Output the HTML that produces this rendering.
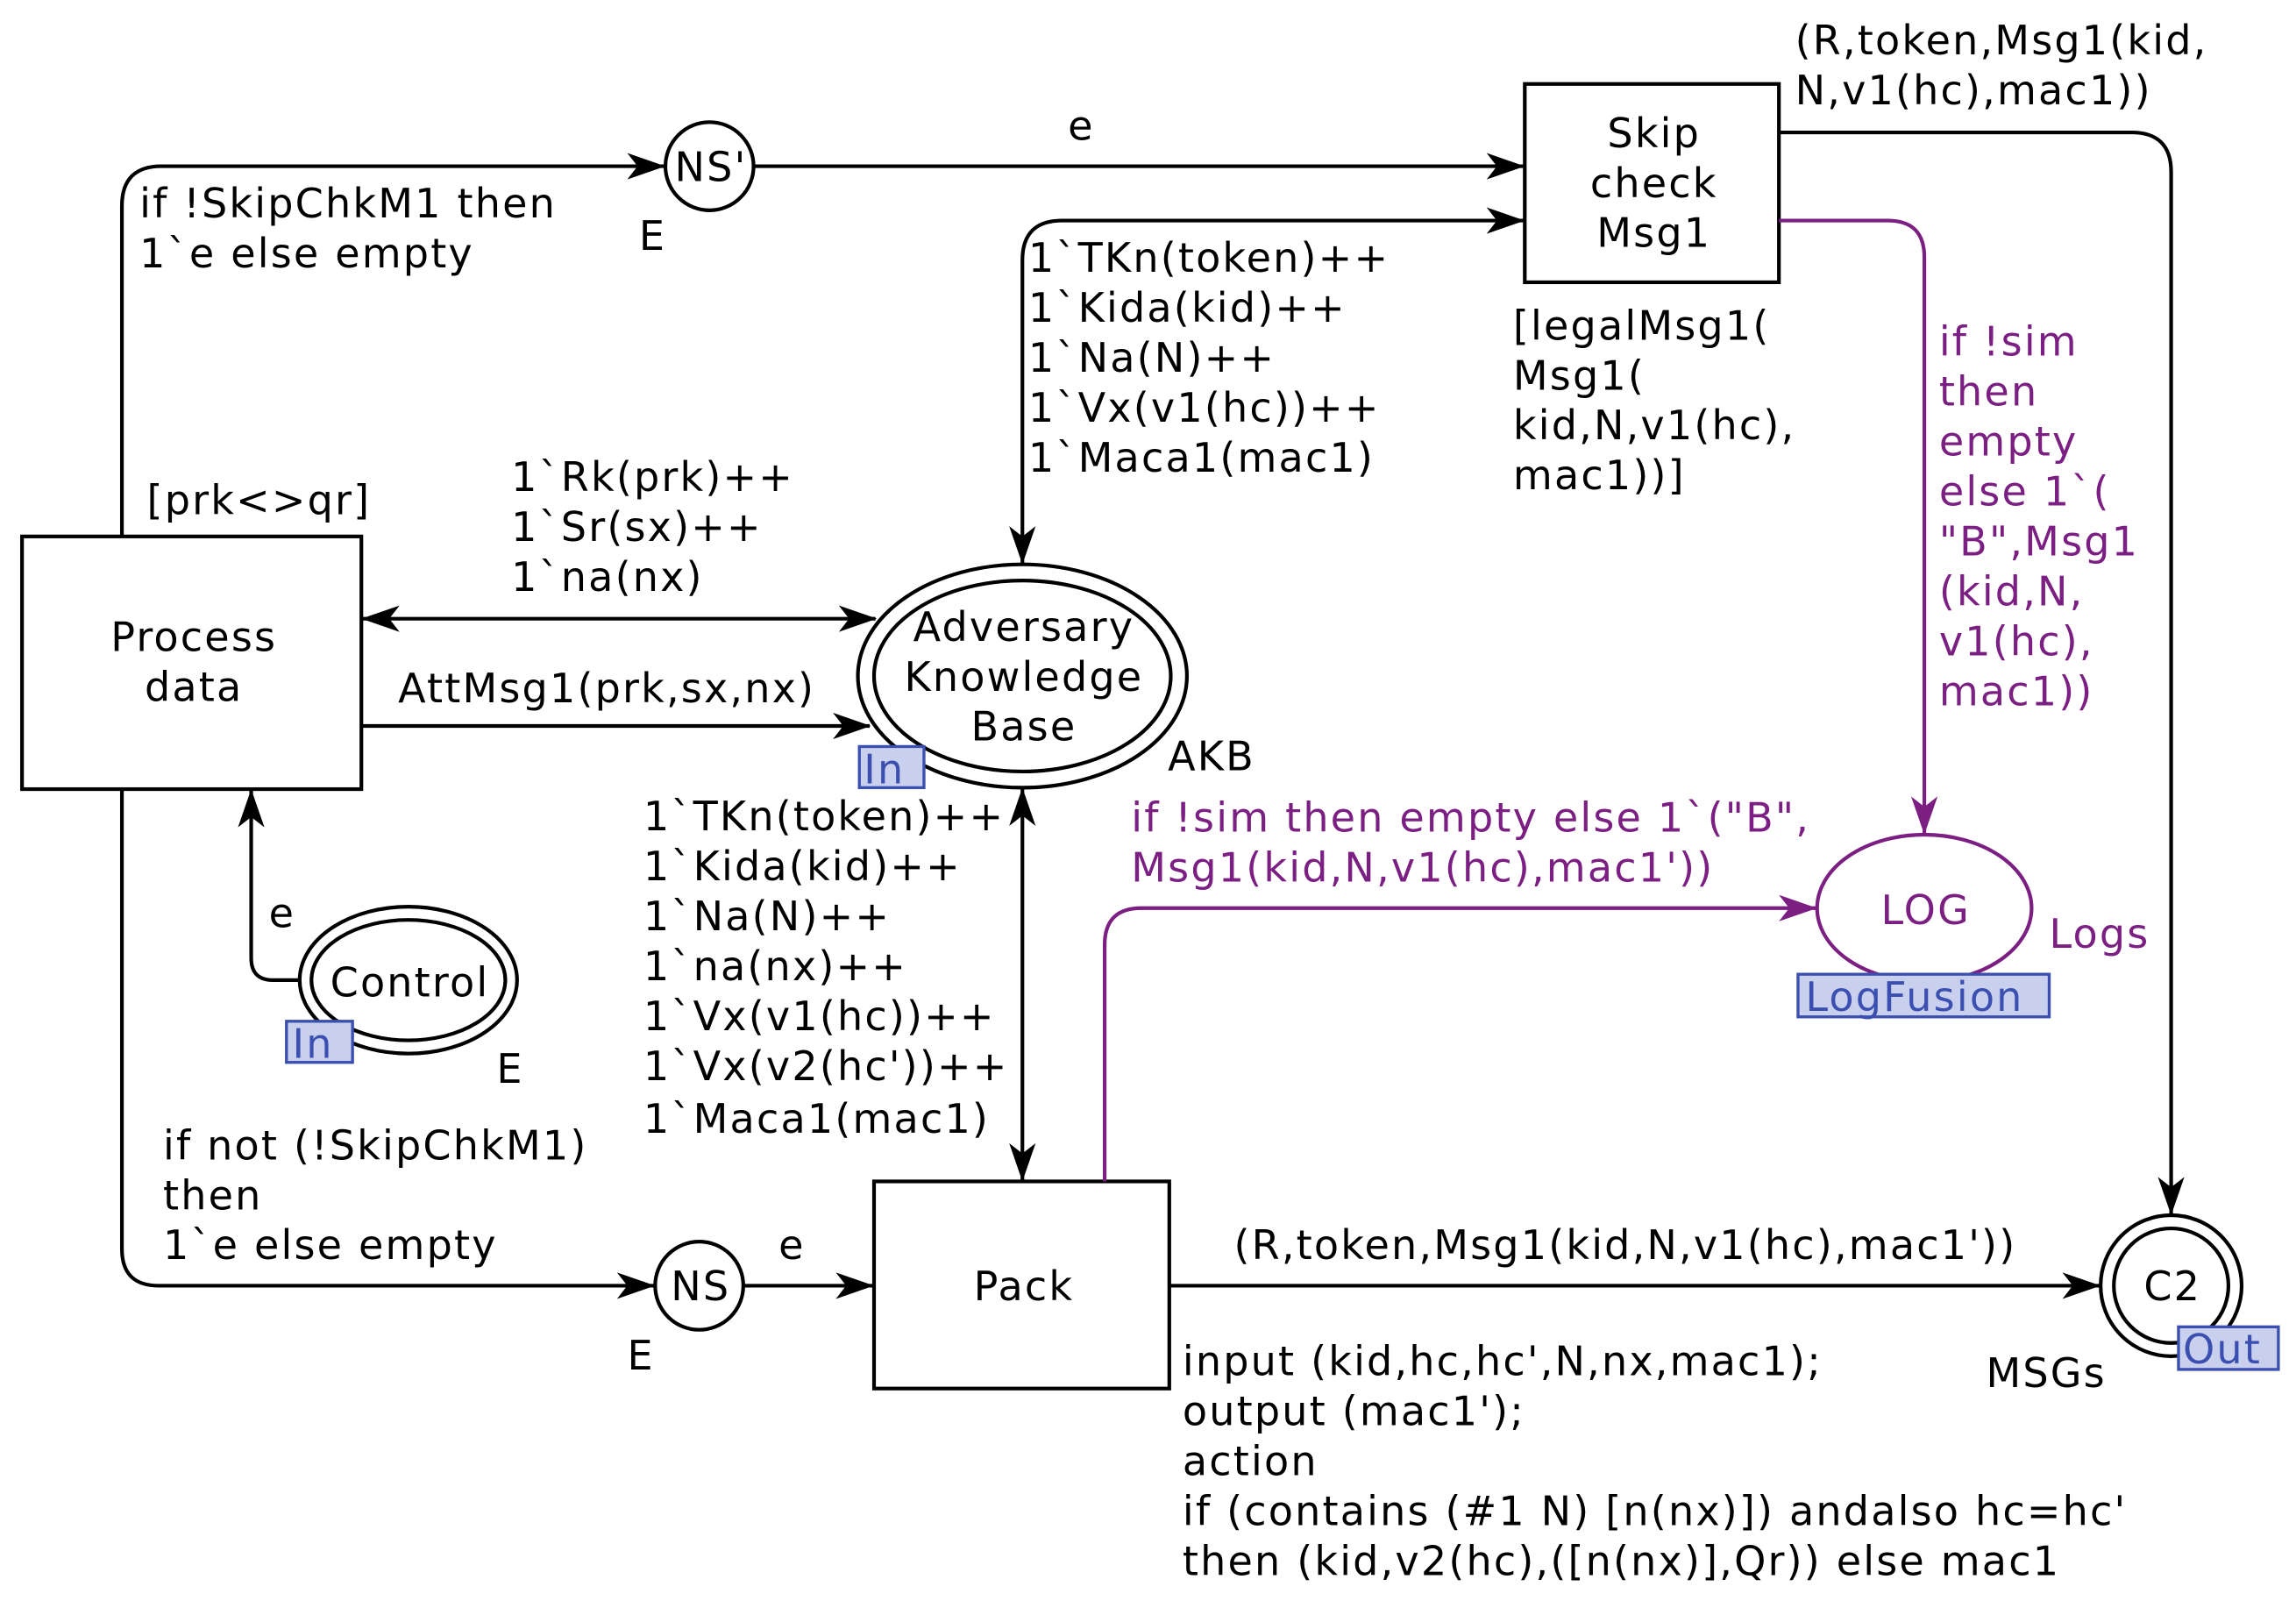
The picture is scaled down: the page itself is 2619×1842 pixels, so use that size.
<!DOCTYPE html>
<html><head><meta charset="utf-8"><style>
html,body{margin:0;padding:0;background:#fff;}
svg{display:block;}
text{font-family:"DejaVu Sans","Liberation Sans",sans-serif;font-size:27.5px;fill:#000;letter-spacing:1.3px;}
.p{fill:#7b1f82;}
.t{fill:#3b4fb0;}
</style></head><body>
<svg width="2619" height="1842" viewBox="0 0 1563 1099" xmlns="http://www.w3.org/2000/svg">
<defs>
<marker id="a" viewBox="0 0 26 18" refX="25" refY="9" markerWidth="26" markerHeight="18" markerUnits="userSpaceOnUse" orient="auto-start-reverse"><path d="M0,0 L26,9 L0,18 L7,9 Z" fill="#000"/></marker>
<marker id="ap" viewBox="0 0 26 18" refX="25" refY="9" markerWidth="26" markerHeight="18" markerUnits="userSpaceOnUse" orient="auto-start-reverse"><path d="M0,0 L26,9 L0,18 L7,9 Z" fill="#7b1f82"/></marker>
</defs>
<g fill="none" stroke="#000" stroke-width="2.5">
<rect x="15" y="365" width="231" height="172"/>
<rect x="1038" y="57" width="173" height="135"/>
<rect x="595" y="804" width="201" height="141"/>
<ellipse cx="278" cy="667" rx="74" ry="50"/>
<ellipse cx="278" cy="667" rx="66" ry="41"/>
<circle cx="483" cy="113" r="30"/>
<circle cx="476" cy="875" r="30"/>
<ellipse cx="696" cy="460" rx="112" ry="76"/>
<ellipse cx="696" cy="460" rx="101" ry="65"/>
<circle cx="1478" cy="875" r="48"/>
<circle cx="1478" cy="875" r="39"/>
<path d="M83,365 V140 Q83,113 110,113 H452" marker-end="url(#a)"/>
<path d="M513,113 H1037" marker-end="url(#a)"/>
<path d="M696,383 V177 Q696,150 723,150 H1037" marker-start="url(#a)" marker-end="url(#a)"/>
<path d="M1211,90 H1451 Q1478,90 1478,117 V826" marker-end="url(#a)"/>
<path d="M247,421 H596" marker-start="url(#a)" marker-end="url(#a)"/>
<path d="M246,494 H592" marker-end="url(#a)"/>
<path d="M205,667 H186 Q171,667 171,652 V538" marker-end="url(#a)"/>
<path d="M83,537 V850 Q83,875 108,875 H445" marker-end="url(#a)"/>
<path d="M506,875 H594" marker-end="url(#a)"/>
<path d="M696,537 V803" marker-start="url(#a)" marker-end="url(#a)"/>
<path d="M796,875 H1429" marker-end="url(#a)"/>
</g>
<g fill="none" stroke="#7b1f82" stroke-width="2.5">
<ellipse cx="1310" cy="618" rx="73" ry="50"/>
<path d="M1211,150 H1285 Q1310,150 1310,175 V567" marker-end="url(#ap)"/>
<path d="M752,804 V643 Q752,618 777,618 H1236" marker-end="url(#ap)"/>
</g>
<g fill="#c9d0ee" stroke="#3b4fb0" stroke-width="2">
<rect x="195" y="695" width="45" height="28"/>
<rect x="585" y="508" width="44" height="28"/>
<rect x="1224" y="663" width="171" height="29"/>
<rect x="1483" y="903" width="68" height="29"/>
</g>
<text class="t" x="199" y="720">In</text>
<text class="t" x="588" y="533">In</text>
<text class="t" x="1229" y="688">LogFusion</text>
<text class="t" x="1486" y="928">Out</text>
<g text-anchor="middle">
<text x="132" y="443">Process</text><text x="132" y="477">data</text>
<text x="1126" y="100">Skip</text><text x="1126" y="134">check</text><text x="1126" y="168">Msg1</text>
<text x="697" y="885">Pack</text>
<text x="279" y="678">Control</text>
<text x="484" y="123">NS'</text>
<text x="477" y="885">NS</text>
<text x="697" y="436">Adversary</text><text x="697" y="470">Knowledge</text><text x="697" y="504">Base</text>
<text x="1479" y="885">C2</text>
<text class="p" x="1311" y="629">LOG</text>
</g>
<text x="435" y="170">E</text>
<text x="338" y="737">E</text>
<text x="427" y="932">E</text>
<text x="795" y="524">AKB</text>
<text class="p" x="1395" y="645">Logs</text>
<text x="1352" y="944">MSGs</text>
<text x="95" y="148">if !SkipChkM1 then</text>
<text x="95" y="182">1`e else empty</text>
<text x="727" y="95">e</text>
<text x="1222" y="37">(R,token,Msg1(kid,</text>
<text x="1222" y="71">N,v1(hc),mac1))</text>
<text x="700" y="185">1`TKn(token)++</text>
<text x="700" y="219">1`Kida(kid)++</text>
<text x="700" y="253">1`Na(N)++</text>
<text x="700" y="287">1`Vx(v1(hc))++</text>
<text x="700" y="321">1`Maca1(mac1)</text>
<text x="1030" y="231">[legalMsg1(</text>
<text x="1030" y="265">Msg1(</text>
<text x="1030" y="299">kid,N,v1(hc),</text>
<text x="1030" y="333">mac1))]</text>
<text class="p" x="1320" y="242">if !sim</text>
<text class="p" x="1320" y="276">then</text>
<text class="p" x="1320" y="310">empty</text>
<text class="p" x="1320" y="344">else 1`(</text>
<text class="p" x="1320" y="378">"B",Msg1</text>
<text class="p" x="1320" y="412">(kid,N,</text>
<text class="p" x="1320" y="446">v1(hc),</text>
<text class="p" x="1320" y="480">mac1))</text>
<text class="p" x="770" y="566">if !sim then empty else 1`("B",</text>
<text class="p" x="770" y="600">Msg1(kid,N,v1(hc),mac1'))</text>
<text x="100" y="350">[prk&lt;&gt;qr]</text>
<text x="348" y="334">1`Rk(prk)++</text>
<text x="348" y="368">1`Sr(sx)++</text>
<text x="348" y="402">1`na(nx)</text>
<text x="271" y="478">AttMsg1(prk,sx,nx)</text>
<text x="438" y="565">1`TKn(token)++</text>
<text x="438" y="599">1`Kida(kid)++</text>
<text x="438" y="633">1`Na(N)++</text>
<text x="438" y="667">1`na(nx)++</text>
<text x="438" y="701">1`Vx(v1(hc))++</text>
<text x="438" y="735">1`Vx(v2(hc'))++</text>
<text x="438" y="771">1`Maca1(mac1)</text>
<text x="183" y="631">e</text>
<text x="111" y="789">if not (!SkipChkM1)</text>
<text x="111" y="823">then</text>
<text x="111" y="857">1`e else empty</text>
<text x="530" y="857">e</text>
<text x="840" y="857">(R,token,Msg1(kid,N,v1(hc),mac1'))</text>
<text x="805" y="936">input (kid,hc,hc',N,nx,mac1);</text>
<text x="805" y="970">output (mac1');</text>
<text x="805" y="1004">action</text>
<text x="805" y="1038">if (contains (#1 N) [n(nx)]) andalso hc=hc'</text>
<text x="805" y="1072">then (kid,v2(hc),([n(nx)],Qr)) else mac1</text>
</svg>
</body></html>
